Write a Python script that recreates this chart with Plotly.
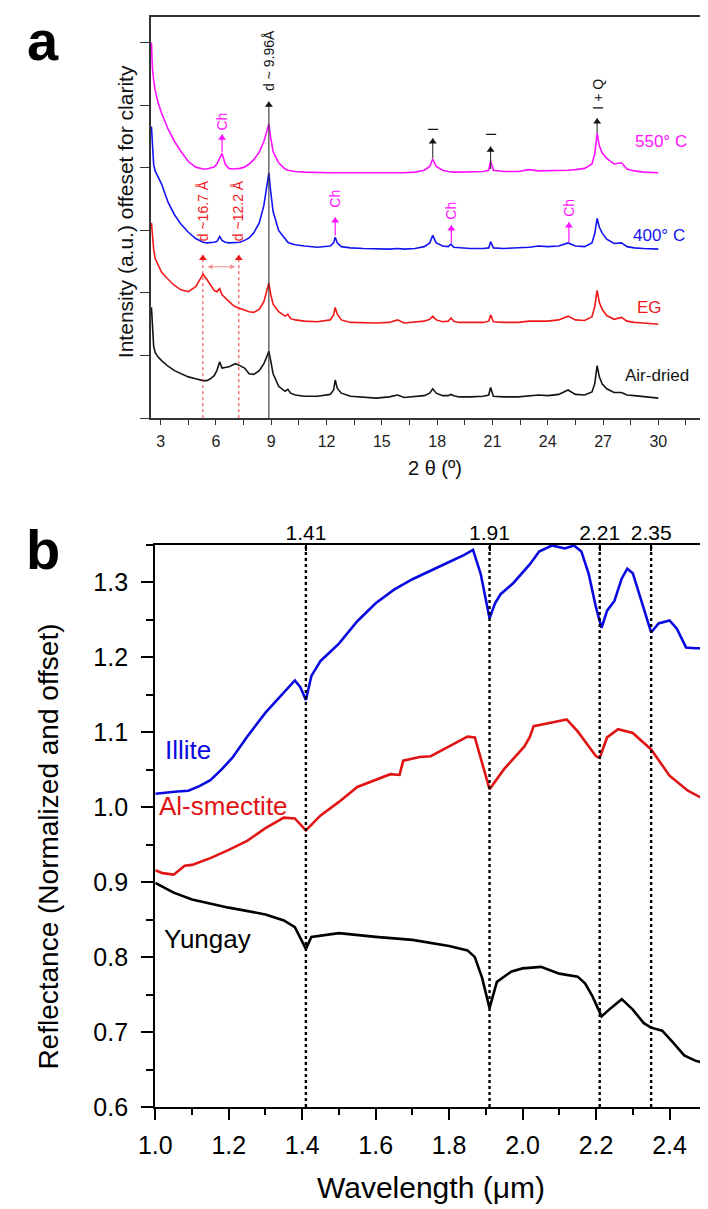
import plotly.graph_objects as go

# ---------------- Panel a : XRD patterns ----------------
two_theta = [2.5, 2.55, 2.62, 2.7, 2.85, 3.05, 3.4, 3.75, 4.1, 4.5,
             4.9, 5.2, 5.3, 5.5, 5.7, 5.9, 6.05, 6.2, 6.33, 6.5,
             6.7, 6.9, 7.05, 7.3, 7.55, 7.8, 8.05, 8.35, 8.6, 8.78,
             8.87, 8.97, 9.1, 9.4, 9.75, 9.9, 10.05, 10.3, 10.8, 11.5,
             12.2, 12.38, 12.47, 12.58, 12.8, 13.3, 14.0, 14.7, 15.4, 15.86,
             16.2, 16.8, 17.3, 17.6, 17.76, 17.95, 18.3, 18.6, 18.75, 18.9,
             19.2, 19.8, 20.5, 20.8, 20.9, 21.05, 21.6, 22.4, 23.0, 23.5,
             24.0, 24.6, 25.1, 25.5, 26.0, 26.4, 26.55, 26.68, 26.8, 26.95,
             27.2, 27.6, 28.0, 28.3, 28.7, 29.2, 29.6, 30.0]

air_dried = [1.77, 1.45, 1.15, 1.05, 0.98, 0.92, 0.83, 0.76, 0.71, 0.66,
             0.63, 0.60, 0.60, 0.60, 0.63, 0.68, 0.76, 0.90, 0.80, 0.81,
             0.82, 0.85, 0.87, 0.84, 0.80, 0.71, 0.70, 0.76, 0.87, 1.00,
             1.07, 0.92, 0.71, 0.51, 0.43, 0.46, 0.40, 0.37, 0.35, 0.35,
             0.38, 0.45, 0.61, 0.48, 0.40, 0.35, 0.34, 0.32, 0.34, 0.37,
             0.33, 0.34, 0.36, 0.40, 0.47, 0.40, 0.36, 0.36, 0.38, 0.36,
             0.34, 0.34, 0.35, 0.37, 0.49, 0.35, 0.34, 0.34, 0.36, 0.37,
             0.36, 0.38, 0.45, 0.38, 0.37, 0.42, 0.55, 0.84, 0.66, 0.55,
             0.47, 0.41, 0.41, 0.37, 0.36, 0.34, 0.33, 0.32]

eg = [3.12, 2.90, 2.70, 2.55, 2.45, 2.33, 2.22, 2.12, 2.05, 2.02,
      2.10, 2.26, 2.30, 2.22, 2.14, 2.04, 2.02, 2.07, 1.97, 1.92,
      1.86, 1.81, 1.78, 1.75, 1.72, 1.70, 1.69, 1.74, 1.86, 2.05,
      2.16, 1.98, 1.82, 1.70, 1.63, 1.66, 1.59, 1.57, 1.55, 1.54,
      1.57, 1.65, 1.77, 1.66, 1.57, 1.53, 1.52, 1.52, 1.53, 1.57,
      1.52, 1.53, 1.55, 1.58, 1.63, 1.57, 1.54, 1.55, 1.60, 1.55,
      1.53, 1.53, 1.53, 1.55, 1.65, 1.54, 1.53, 1.53, 1.55, 1.55,
      1.55, 1.57, 1.63, 1.57, 1.56, 1.62, 1.78, 2.04, 1.85, 1.74,
      1.64, 1.58, 1.61, 1.55, 1.53, 1.52, 1.51, 1.50]

heated_400 = [4.66, 4.30, 4.05, 3.95, 3.85, 3.74, 3.45, 3.25, 3.10, 2.97,
              2.87, 2.82, 2.81, 2.80, 2.80, 2.81, 2.82, 2.90, 2.84, 2.81,
              2.80, 2.80, 2.80, 2.81, 2.84, 2.88, 2.96, 3.12, 3.40, 3.78,
              3.92, 3.62, 3.30, 3.00, 2.86, 2.81, 2.79, 2.77, 2.75, 2.73,
              2.75, 2.80, 2.89, 2.80, 2.74, 2.72, 2.71, 2.70, 2.70, 2.71,
              2.70, 2.71, 2.74, 2.80, 2.92, 2.80, 2.75, 2.74, 2.78, 2.73,
              2.72, 2.71, 2.71, 2.72, 2.82, 2.72, 2.71, 2.72, 2.73, 2.75,
              2.74, 2.75, 2.80, 2.75, 2.74, 2.80, 2.95, 3.19, 3.05, 2.96,
              2.86, 2.79, 2.80, 2.74, 2.72, 2.71, 2.70, 2.70]

heated_550 = [6.00, 5.60, 5.40, 5.24, 5.05, 4.87, 4.62, 4.42, 4.26, 4.10,
              4.01, 3.98, 3.98, 3.98, 3.99, 4.01, 4.06, 4.15, 4.23, 4.06,
              3.99, 3.98, 3.98, 3.99, 4.01, 4.06, 4.13, 4.25, 4.42, 4.62,
              4.70, 4.48, 4.26, 4.08, 3.98, 3.96, 3.95, 3.94, 3.93, 3.92,
              3.92, 3.92, 3.92, 3.92, 3.91, 3.91, 3.91, 3.92, 3.92, 3.92,
              3.92, 3.93, 3.96, 4.02, 4.14, 4.02, 3.96, 3.94, 3.93, 3.93,
              3.93, 3.93, 3.94, 3.96, 4.11, 3.96, 3.94, 3.94, 3.97, 3.95,
              3.95, 3.96, 3.96, 3.97, 3.99, 4.06, 4.22, 4.55, 4.35, 4.24,
              4.15, 4.06, 4.08, 3.98, 3.95, 3.93, 3.93, 3.92]

xrd_series = ["Air-dried", "EG", "400° C", "550° C"]
xrd_label_x = [29.93, 29.5, 30.04, 30.14]
xrd_label_y = [0.68, 1.77, 2.92, 4.42]

# peak markers (arrows) in panel a
black_arrow_x = [8.87, 17.76, 20.9, 26.68]
black_arrow_base = [0.0, 4.15, 3.98, 4.55]
black_arrow_tip = [5.06, 4.47, 4.34, 4.79]
black_arrow_text = ["d ~ 9.96Å", "I", "I", "I + Q"]
black_text_y = [5.72, 4.61, 4.53, 5.17]

ch_arrow_x = [6.33, 12.47, 18.77, 25.15]
ch_arrow_base = [4.25, 2.92, 2.80, 2.81]
ch_arrow_tip = [4.53, 3.21, 3.08, 3.13]
ch_text_y = [4.74, 3.51, 3.32, 3.36]

d_spacing_x = [5.29, 7.24]
d_spacing_tip = [2.61, 2.61]
d_spacing_text = ["d ~16.7 Å", "d ~12.2 Å"]
d_text_y = [3.32, 3.32]
shift_arrow_x = [5.46, 7.04]
shift_arrow_y = 2.42

# ---------------- Panel b : reflectance spectra ----------------
wl_illite = [1.00, 1.03, 1.06, 1.09, 1.12, 1.15, 1.18, 1.21, 1.25, 1.30,
             1.35, 1.38, 1.395, 1.41, 1.425, 1.45, 1.50, 1.55, 1.60, 1.65,
             1.70, 1.75, 1.80, 1.84, 1.865, 1.886, 1.90, 1.91, 1.925, 1.94,
             1.975, 2.02, 2.045, 2.08, 2.115, 2.14, 2.16, 2.18, 2.20, 2.215,
             2.23, 2.25, 2.27, 2.285, 2.30, 2.33, 2.35, 2.37, 2.40, 2.42,
             2.445, 2.47, 2.50]
r_illite = [1.018, 1.020, 1.021, 1.022, 1.028, 1.036, 1.050, 1.066, 1.094, 1.126,
            1.152, 1.169, 1.160, 1.143, 1.175, 1.195, 1.218, 1.248, 1.272, 1.290,
            1.304, 1.316, 1.327, 1.336, 1.343, 1.311, 1.279, 1.252, 1.272, 1.284,
            1.299, 1.324, 1.341, 1.349, 1.345, 1.349, 1.341, 1.311, 1.266, 1.239,
            1.262, 1.275, 1.305, 1.318, 1.312, 1.266, 1.233, 1.245, 1.249, 1.238,
            1.213, 1.212, 1.212]

wl_smectite = [1.00, 1.02, 1.05, 1.08, 1.10, 1.15, 1.20, 1.25, 1.30, 1.35,
               1.38, 1.41, 1.45, 1.50, 1.55, 1.60, 1.64, 1.665, 1.675, 1.72,
               1.75, 1.80, 1.85, 1.87, 1.90, 1.91, 1.95, 2.005, 2.02, 2.03,
               2.08, 2.12, 2.15, 2.20, 2.21, 2.23, 2.26, 2.30, 2.35, 2.40,
               2.45, 2.50]
r_smectite = [0.916, 0.912, 0.910, 0.922, 0.923, 0.932, 0.943, 0.955, 0.972, 0.986,
              0.985, 0.969, 0.989, 1.007, 1.027, 1.036, 1.044, 1.043, 1.062, 1.067,
              1.068, 1.081, 1.094, 1.093, 1.042, 1.024, 1.051, 1.081, 1.094, 1.108,
              1.113, 1.117, 1.101, 1.068, 1.066, 1.093, 1.104, 1.099, 1.077, 1.042,
              1.022, 1.009]

wl_yungay = [1.00, 1.05, 1.10, 1.20, 1.30, 1.35, 1.38, 1.395, 1.41, 1.425,
             1.45, 1.50, 1.60, 1.70, 1.80, 1.85, 1.87, 1.89, 1.91, 1.93,
             1.97, 2.00, 2.05, 2.10, 2.15, 2.17, 2.19, 2.215, 2.24, 2.27,
             2.30, 2.33, 2.35, 2.38, 2.41, 2.44, 2.47, 2.50]
r_yungay = [0.899, 0.886, 0.877, 0.866, 0.857, 0.849, 0.840, 0.826, 0.811, 0.827,
            0.829, 0.832, 0.827, 0.823, 0.815, 0.809, 0.800, 0.772, 0.732, 0.767,
            0.781, 0.785, 0.787, 0.778, 0.774, 0.765, 0.748, 0.721, 0.732, 0.744,
            0.730, 0.712, 0.706, 0.702, 0.686, 0.669, 0.662, 0.658]

spectra_names = ["Illite", "Al-smectite", "Yungay"]
spectra_label_x = [1.089, 1.186, 1.142]
spectra_label_y = [1.076, 1.001, 0.824]

absorption_bands = [1.41, 1.91, 2.21, 2.35]

# ---------------- styling ----------------
W, H = 708, 1209
FONT = "Liberation Sans, Arial, sans-serif"
MAGENTA, BLUE_A, RED_A, BLACK_A = "#ff10ff", "#1414f0", "#f01818", "#141414"
BLUE_B, RED_B = "#0a0ae0", "#e01414"
A_UNIT_PX = 63.3  # pixels per y unit in panel a


def px_x(p):
    return p / W


def px_y(p):
    return 1 - p / H


fig = go.Figure()

# panel a curves
for ys, col in [(air_dried, BLACK_A), (eg, RED_A), (heated_400, BLUE_A), (heated_550, MAGENTA)]:
    fig.add_trace(go.Scatter(x=two_theta, y=ys, mode="lines", line=dict(color=col, width=1.6),
                             xaxis="x", yaxis="y", hoverinfo="skip"))


def stems(xs, bases, tips):
    sx, sy = [], []
    for x, b, t in zip(xs, bases, tips):
        sx += [x, x, None]
        sy += [b, t, None]
    return sx, sy


sx, sy = stems(black_arrow_x, black_arrow_base, black_arrow_tip)
fig.add_trace(go.Scatter(x=sx, y=sy, mode="lines", line=dict(color="#333", width=1.1),
                         xaxis="x", yaxis="y", hoverinfo="skip"))
fig.add_trace(go.Scatter(x=black_arrow_x, y=[t - 3.5 / A_UNIT_PX for t in black_arrow_tip], mode="markers",
                         marker=dict(symbol="triangle-up", size=7, color="#111"),
                         xaxis="x", yaxis="y", hoverinfo="skip"))
sx, sy = stems(ch_arrow_x, ch_arrow_base, ch_arrow_tip)
fig.add_trace(go.Scatter(x=sx, y=sy, mode="lines", line=dict(color=MAGENTA, width=1.2),
                         xaxis="x", yaxis="y", hoverinfo="skip"))
fig.add_trace(go.Scatter(x=ch_arrow_x, y=[t - 3.5 / A_UNIT_PX for t in ch_arrow_tip], mode="markers",
                         marker=dict(symbol="triangle-up", size=7, color=MAGENTA),
                         xaxis="x", yaxis="y", hoverinfo="skip"))
sx, sy = stems(d_spacing_x, [0.0] * len(d_spacing_x), d_spacing_tip)
fig.add_trace(go.Scatter(x=sx, y=sy, mode="lines", line=dict(color="#f03030", width=1, dash="dot"),
                         xaxis="x", yaxis="y", hoverinfo="skip"))
fig.add_trace(go.Scatter(x=d_spacing_x, y=[t - 3.5 / A_UNIT_PX for t in d_spacing_tip], mode="markers",
                         marker=dict(symbol="triangle-up", size=7, color="#f01818"),
                         xaxis="x", yaxis="y", hoverinfo="skip"))

# panel b curves
for xs, ys, col in [(wl_illite, r_illite, BLUE_B), (wl_smectite, r_smectite, RED_B), (wl_yungay, r_yungay, "#000")]:
    fig.add_trace(go.Scatter(x=xs, y=ys, mode="lines", line=dict(color=col, width=2.6),
                             xaxis="x2", yaxis="y2", hoverinfo="skip"))

bx, by = [], []
for b in absorption_bands:
    bx += [b, b, None]
    by += [0.6, 1.35, None]
fig.add_trace(go.Scatter(x=bx, y=by, mode="lines", line=dict(color="#000", width=2.4, dash="dot"),
                         xaxis="x3", yaxis="y2", hoverinfo="skip"))

ann = []
# panel a texts
for x, y, t in zip(black_arrow_x, black_text_y, black_arrow_text):
    ann.append(dict(x=x, y=y, xref="x", yref="y", text=t, showarrow=False, textangle=-90,
                    font=dict(size=14, color="#111"), xanchor="center", yanchor="middle"))
for x, y in zip(ch_arrow_x, ch_text_y):
    ann.append(dict(x=x, y=y, xref="x", yref="y", text="Ch", showarrow=False, textangle=-90,
                    font=dict(size=14, color=MAGENTA), xanchor="center", yanchor="middle"))
for x, y, t in zip(d_spacing_x, d_text_y, d_spacing_text):
    ann.append(dict(x=x, y=y, xref="x", yref="y", text=t, showarrow=False, textangle=-90,
                    font=dict(size=14, color="#f02020"), xanchor="center", yanchor="middle"))
ann.append(dict(x=shift_arrow_x[1], y=shift_arrow_y, ax=shift_arrow_x[0], ay=shift_arrow_y,
                xref="x", yref="y", axref="x", ayref="y", text="", showarrow=True,
                arrowhead=2, arrowside="end+start", arrowsize=0.9, arrowwidth=1.1, arrowcolor="#f29090"))
for name, x, y, col in zip(xrd_series, xrd_label_x, xrd_label_y, [BLACK_A, RED_A, BLUE_A, MAGENTA]):
    ann.append(dict(x=x, y=y, xref="x", yref="y", text=name, showarrow=False,
                    font=dict(size=17, color=col), xanchor="center", yanchor="middle"))

# panel b labels
for name, x, y, col in zip(spectra_names, spectra_label_x, spectra_label_y, [BLUE_B, RED_B, "#000"]):
    ann.append(dict(x=x, y=y, xref="x2", yref="y2", text=name, showarrow=False,
                    font=dict(size=26, color=col), xanchor="center", yanchor="middle"))

# titles & panel letters
ann += [
    dict(x=px_x(18), y=1.0, xref="paper", yref="paper", text="<b>a</b>", showarrow=False,
         font=dict(size=56, color="#000", family="Liberation Sans, Arial"), xanchor="center", yanchor="top",
         borderpad=0),
    dict(x=px_x(18), y=px_y(548), xref="paper", yref="paper", text="<b>b</b>", showarrow=False,
         font=dict(size=56, color="#000", family="Liberation Sans, Arial"), xanchor="center", yanchor="middle"),
    dict(x=px_x(103), y=px_y(206), xref="paper", yref="paper", text="Intensity (a.u.) offeset for clarity",
         showarrow=False, textangle=-90, font=dict(size=21, color="#111"), xanchor="center", yanchor="middle"),
    dict(x=px_x(420), y=px_y(465), xref="paper", yref="paper", text="2 θ (º)",
         showarrow=False, font=dict(size=20, color="#111"), xanchor="center", yanchor="middle"),
    dict(x=px_x(24), y=px_y(848), xref="paper", yref="paper", text="Reflectance (Normalized and offset)",
         showarrow=False, textangle=-90, font=dict(size=28, color="#000"), xanchor="center", yanchor="middle"),
    dict(x=px_x(416), y=px_y(1193), xref="paper", yref="paper", text="Wavelength (μm)",
         showarrow=False, font=dict(size=30, color="#000"), xanchor="center", yanchor="middle"),
]

fig.update_layout(
    width=W, height=H, margin=dict(l=0, r=0, t=0, b=0),
    paper_bgcolor="white", plot_bgcolor="white", showlegend=False,
    font=dict(family=FONT, color="#111"),
    annotations=ann,
    xaxis=dict(domain=[px_x(129), px_x(698)], range=[2.47, 32.6], anchor="y",
               tick0=0, dtick=3, ticks="outside", ticklen=5, tickwidth=1.3, tickcolor="#333",
               minor=dict(dtick=1.5, tick0=0, ticks="outside", ticklen=5, tickwidth=1.3, tickcolor="#333"),
               showline=True, mirror=True, linecolor="#333", linewidth=1.6,
               showgrid=False, zeroline=False, tickfont=dict(size=16, color="#222"),
               ticklabelstandoff=3),
    yaxis=dict(domain=[px_y(415), px_y(9)], range=[0, 6.41], anchor="x",
               tick0=0, dtick=1, ticks="outside", ticklen=9, tickwidth=1.3, tickcolor="#333",
               showticklabels=False, showline=True, mirror=True, linecolor="#333", linewidth=1.6,
               showgrid=False, zeroline=False),
    xaxis2=dict(domain=[px_x(133.5), px_x(698)], range=[1.0, 2.5], anchor="y2",
                tick0=1.0, dtick=0.2, tickformat=".1f", ticks="outside", ticklen=11, tickwidth=2,
                tickcolor="#000",
                minor=dict(dtick=0.1, tick0=1.0, ticks="outside", ticklen=6, tickwidth=2, tickcolor="#000"),
                showline=True, mirror=True, linecolor="#000", linewidth=2.4,
                showgrid=False, zeroline=False, tickfont=dict(size=25, color="#000"),
                ticklabelstandoff=4),
    xaxis3=dict(overlaying="x2", side="top", anchor="y2", range=[1.0, 2.5],
                tickmode="array", tickvals=absorption_bands,
                ticktext=[f"{b:.2f}" for b in absorption_bands],
                ticks="inside", ticklen=6, tickwidth=2, tickcolor="#000",
                showline=False, showgrid=False, zeroline=False,
                tickfont=dict(size=21, color="#000")),
    yaxis2=dict(domain=[px_y(1112), px_y(543)], range=[0.6, 1.35], anchor="x2",
                tick0=0.6, dtick=0.1, tickformat=".1f", ticks="outside", ticklen=12, tickwidth=2,
                tickcolor="#000",
                minor=dict(dtick=0.05, tick0=0.6, ticks="outside", ticklen=7, tickwidth=2, tickcolor="#000"),
                showline=True, mirror=True, linecolor="#000", linewidth=2.4,
                showgrid=False, zeroline=False, tickfont=dict(size=25, color="#000"),
                ticklabelstandoff=8),
)

fig.write_html("out.html")
